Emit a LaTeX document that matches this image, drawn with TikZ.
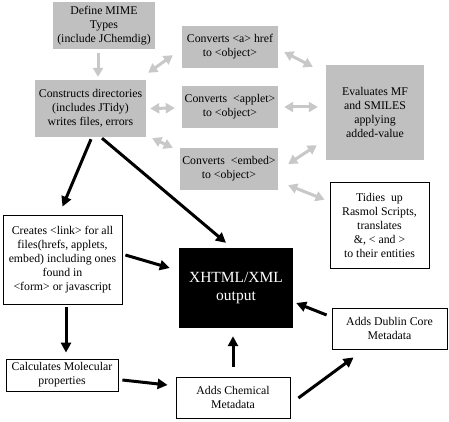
\documentclass[tikz,border=0pt]{standalone}
\usepackage{fontspec}
\setmainfont{Liberation Serif}
\usetikzlibrary{arrows.meta}
\definecolor{boxgrey}{HTML}{C0C0C0}
\definecolor{arrgrey}{HTML}{C8C8C8}
\begin{document}
\begin{tikzpicture}[x=1pt,y=-1pt,
  base/.style={inner sep=1pt,align=center,font=\fontsize{11.8}{14}\selectfont},
  gbox/.style={base,fill=boxgrey},
  wbox/.style={base,draw=black,fill=white,line width=0.8pt},
  bbox/.style={inner sep=1pt,align=center,fill=black,text=white,font=\fontsize{15.5}{18}\selectfont},
  garrow/.style={draw=arrgrey,line width=3pt,{Triangle[length=9pt,width=10pt]}-{Triangle[length=9pt,width=10pt]}},
  garrowone/.style={draw=arrgrey,line width=3pt,-{Triangle[length=9pt,width=10pt]}},
  barrow/.style={draw=black,line width=3pt,-{Triangle[length=10pt,width=10pt]}}
]
\useasboundingbox[fill=white] (0,0) rectangle (449,422);

\node[gbox,minimum width=102pt,minimum height=47pt] (mime) at (104,25.5) {Define MIME\\Types\\(include JChemdig)};
\node[gbox,minimum width=111pt,minimum height=57pt] (cons) at (90.5,108.5) {Constructs directories\\(includes JTidy)\\writes files, errors};
\node[gbox,minimum width=96pt,minimum height=42pt] (ca) at (230,47) {Converts <a> href\\to <object>};
\node[gbox,minimum width=96pt,minimum height=42pt] (cap) at (230,107) {Converts \ <applet>\\to <object>};
\node[gbox,minimum width=98pt,minimum height=42pt] (ce) at (229,169) {Converts \ <embed>\\to <object>};
\node[gbox,minimum width=98pt,minimum height=95pt] (eval) at (375,112.5) {Evaluates MF\\and SMILES\\applying\\added-value};
\node[wbox,minimum width=99pt,minimum height=86pt] (tid) at (379.5,225) {Tidies \ up\\Rasmol Scripts,\\translates\\\&, < and >\\to their entities};
\node[wbox,minimum width=119pt,minimum height=89pt] (cre) at (62.5,259.5) {Creates <link> for all\\files(hrefs, applets,\\embed) including ones\\found in\\<form> or javascript};
\node[bbox,minimum width=114pt,minimum height=80pt] (xh) at (236,288) {XHTML/XML\\output};
\node[wbox,minimum width=112pt,minimum height=32pt] (calc) at (62,375) {Calculates Molecular\\properties};
\node[wbox,minimum width=114pt,minimum height=41pt] (chem) at (233,397.5) {Adds Chemical\\Metadata};
\node[wbox,minimum width=115pt,minimum height=41pt] (dub) at (389.5,328.5) {Adds Dublin Core\\Metadata};

% grey connectors
\draw[garrowone] ([shift={(-6,4)}]mime.south) -- ([shift={(7.5,-3)}]cons.north);
\draw[garrow] ([shift={(2,-7)}]cons.north east) -- ([shift={(-9,-13)}]ca.south west);
\draw[garrow] ([shift={(4,0)}]cons.east) -- ([shift={(-7,1)}]cap.west);
\draw[garrow] ([shift={(6,1)}]cons.south east) -- ([shift={(-7,0)}]ce.north west);
\draw[garrow] ([shift={(6,5)}]ca.east) -- ([shift={(-13,2)}]eval.north west);
\draw[garrow] ([shift={(6,0)}]cap.east) -- ([shift={(-8,-5.5)}]eval.west);
\draw[garrow] ([shift={(10,-5)}]ce.east) -- ([shift={(-9,-15)}]eval.south west);
\draw[garrow] ([shift={(10,-5)}]ce.south east) -- ([shift={(-5,18)}]tid.north west);

% black connectors
\draw[barrow] ([shift={(0.5,2)}]cons.south) -- ([shift={(0,-8)}]cre.north);
\draw[barrow] ([shift={(11.5,1)}]cons.south) -- ([shift={(-10,-5)}]xh.north);
\draw[barrow] ([shift={(3,-4.5)}]cre.east) -- ([shift={(-9,-20)}]xh.west);
\draw[barrow] ([shift={(3.5,3)}]cre.south) -- ([shift={(4,-6)}]calc.north);
\draw[barrow] ([shift={(4,5)}]calc.east) -- ([shift={(-8,-12.5)}]chem.west);
\draw[barrow] ([shift={(0,-10)}]chem.north) -- ([shift={(-3,8)}]xh.south);
\draw[barrow] ([shift={(8,0.5)}]chem.east) -- ([shift={(22,8)}]dub.south west);
\draw[barrow] ([shift={(-5,-13.5)}]dub.west) -- ([shift={(3,15)}]xh.east);
\end{tikzpicture}
\end{document}
